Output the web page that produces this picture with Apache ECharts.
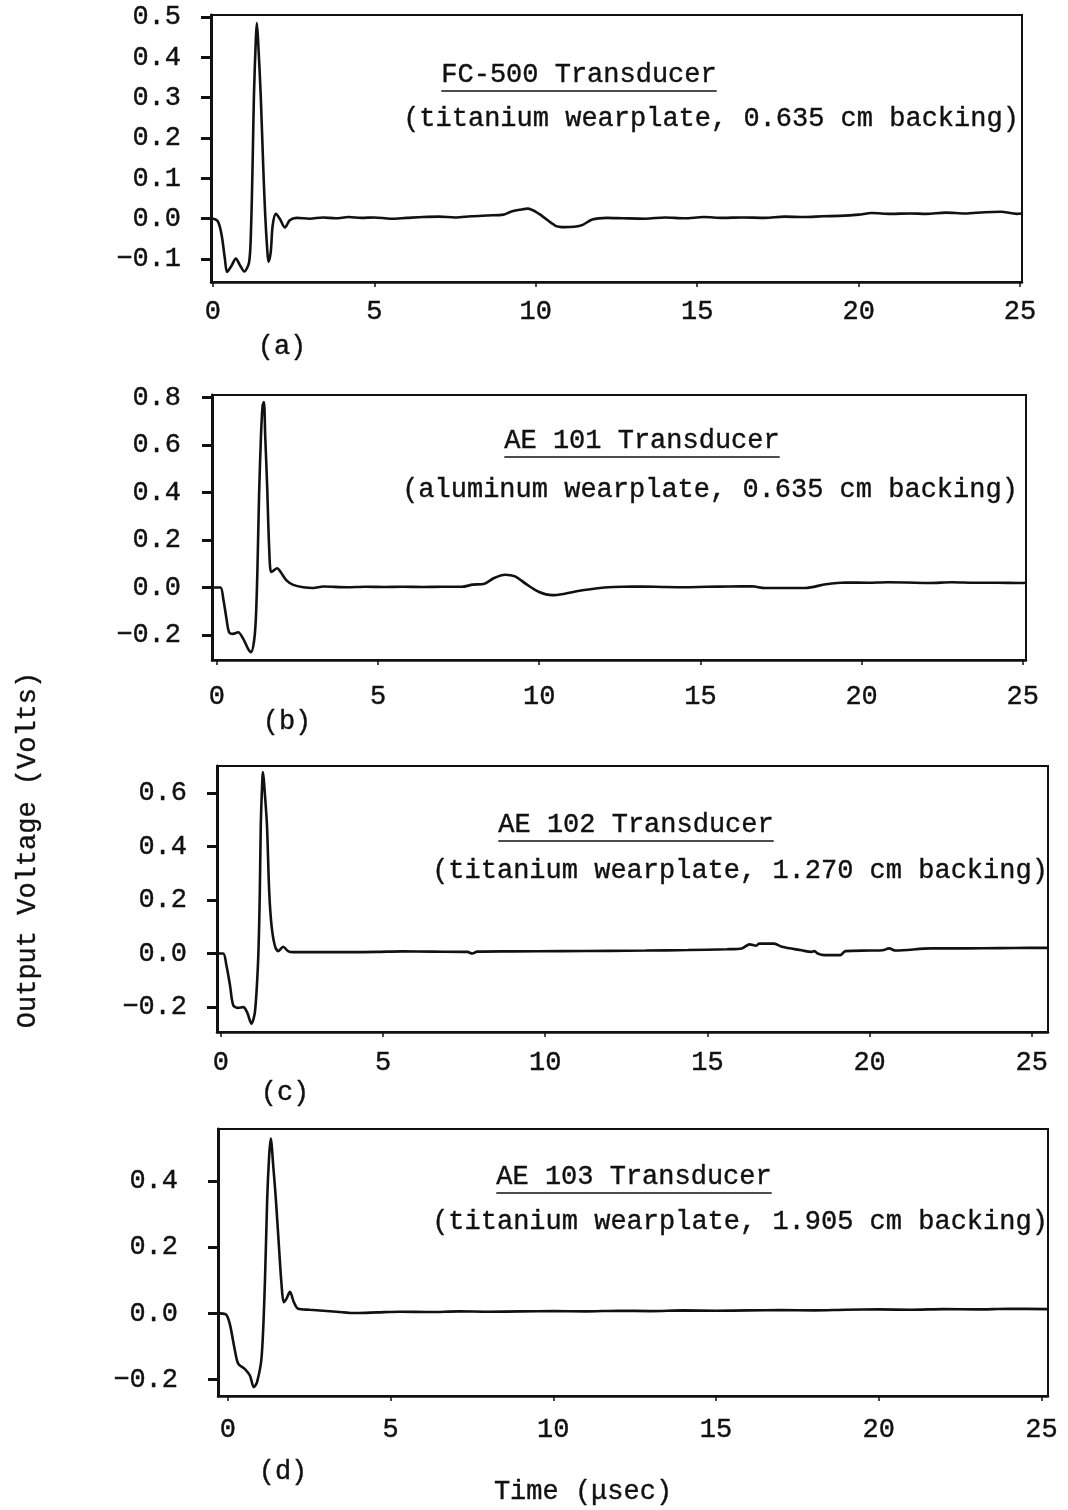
<!DOCTYPE html>
<html>
<head>
<meta charset="utf-8">
<script src="https://cdn.jsdelivr.net/npm/echarts@6/dist/echarts.min.js"></script>
<style>
html,body{margin:0;padding:0;background:#fff;}
#chart{width:1068px;height:1510px;}
</style>
</head>
<body>
<div id="chart"></div>
<script>
// ---- DATA (time in µsec, output voltage in volts) ----
const xTickValues = [0, 5, 10, 15, 20, 25];
const yTicksA = [-0.1, 0.0, 0.1, 0.2, 0.3, 0.4, 0.5];
const yTicksB = [-0.2, 0.0, 0.2, 0.4, 0.6, 0.8];
const yTicksC = [-0.2, 0.0, 0.2, 0.4, 0.6];
const yTicksD = [-0.2, 0.0, 0.2, 0.4];

const titlesMain = ["FC-500 Transducer", "AE 101 Transducer", "AE 102 Transducer", "AE 103 Transducer"];
const titlesSub = ["(titanium wearplate, 0.635 cm backing)", "(aluminum wearplate, 0.635 cm backing)",
                   "(titanium wearplate, 1.270 cm backing)", "(titanium wearplate, 1.905 cm backing)"];
const panelTags = ["(a)", "(b)", "(c)", "(d)"];

const waveA = [
 [-0.06,0],[0.0,0],[0.16,-0.008],[0.27,-0.041],[0.37,-0.099],[0.44,-0.132],[0.58,-0.116],[0.71,-0.099],
 [0.84,-0.116],[0.97,-0.131],[1.12,-0.108],[1.18,-0.025],[1.23,0.14],[1.27,0.306],[1.33,0.447],[1.36,0.485],
 [1.40,0.44],[1.48,0.306],[1.56,0.124],[1.62,0.008],[1.68,-0.074],[1.72,-0.107],[1.79,-0.083],[1.85,-0.017],
 [1.95,0.012],[2.07,0.0],[2.23,-0.022],[2.38,-0.004],[2.59,0.002],[3.0,0.0],[3.4,0.003],[3.8,0.001],
 [4.2,0.004],[4.6,0.002],[5.0,0.003],[5.5,0.0],[6.0,0.002],[6.5,0.004],[7.0,0.005],[7.5,0.003],
 [8.0,0.006],[8.5,0.008],[9.0,0.010],[9.25,0.018],[9.5,0.022],[9.75,0.025],[10.1,0.012],[10.6,-0.017],
 [10.9,-0.021],[11.4,-0.017],[11.75,-0.002],[12.2,0.002],[12.7,0.001],[13.4,0.0],[14.0,0.003],[14.6,0.001],
 [15.2,0.004],[15.8,0.002],[16.4,0.003],[17.1,0.002],[17.7,0.005],[18.3,0.004],[18.9,0.006],[19.4,0.007],
 [20.0,0.010],[20.4,0.014],[21.0,0.012],[21.6,0.013],[22.1,0.012],[22.7,0.015],[23.3,0.013],[23.9,0.016],
 [24.4,0.017],[24.9,0.012],[25.06,0.013]
];

const waveB = [
 [-0.15,0],[0.11,0],[0.2,-0.048],[0.3,-0.132],[0.38,-0.188],[0.5,-0.195],[0.66,-0.188],[0.82,-0.216],
 [0.97,-0.258],[1.06,-0.272],[1.15,-0.23],[1.21,-0.132],[1.26,0.079],[1.31,0.387],[1.37,0.64],[1.42,0.766],
 [1.46,0.78],[1.5,0.64],[1.56,0.43],[1.62,0.177],[1.68,0.065],[1.75,0.07],[1.87,0.081],[1.98,0.065],
 [2.16,0.03],[2.37,0.011],[2.68,0.001],[2.99,-0.002],[3.3,0.004],[4.03,0.001],[4.6,0.003],[5.2,0.002],
 [5.75,0.003],[6.4,0.002],[7.0,0.003],[7.6,0.003],[7.94,0.012],[8.3,0.016],[8.6,0.040],[8.94,0.054],
 [9.25,0.047],[9.6,0.014],[10.0,-0.019],[10.4,-0.032],[10.75,-0.027],[11.25,-0.014],[11.75,-0.004],
 [12.3,0.002],[12.9,0.004],[13.6,0.003],[14.5,0.001],[15.2,0.003],[15.9,0.004],[16.6,0.005],[17.0,-0.002],
 [17.6,-0.002],[18.25,-0.002],[18.9,0.014],[19.5,0.021],[20.2,0.020],[20.8,0.022],[21.4,0.021],
 [22.1,0.019],[22.8,0.022],[23.5,0.020],[24.2,0.020],[24.9,0.019],[25.1,0.020]
];

const waveC = [
 [-0.12,0],[0.07,0],[0.17,-0.044],[0.28,-0.118],[0.38,-0.193],[0.53,-0.203],[0.69,-0.2],[0.81,-0.22],
 [0.94,-0.262],[1.05,-0.218],[1.15,-0.019],[1.2,0.23],[1.23,0.48],[1.28,0.654],[1.3,0.677],[1.35,0.605],
 [1.42,0.48],[1.49,0.23],[1.56,0.106],[1.66,0.031],[1.77,0.009],[1.92,0.025],[2.07,0.009],[2.22,0.005],
 [3.0,0.005],[3.96,0.005],[4.8,0.006],[5.6,0.008],[6.5,0.007],[7.6,0.006],[7.75,0.0],[7.9,0.007],
 [9.0,0.008],[10.5,0.009],[12.0,0.010],[13.1,0.011],[14.4,0.013],[15.6,0.016],[16.06,0.019],[16.3,0.034],
 [16.5,0.029],[16.6,0.037],[17.06,0.037],[17.3,0.025],[17.9,0.012],[18.2,0.006],[18.3,0.009],[18.4,0.0],
 [18.6,-0.006],[19.1,-0.006],[19.25,0.009],[20.0,0.011],[20.4,0.012],[20.6,0.019],[20.8,0.011],
 [21.9,0.019],[23.0,0.019],[24.0,0.020],[24.9,0.021],[25.5,0.021]
];

const waveD = [
 [-0.3,0],[-0.06,-0.003],[0.06,-0.031],[0.22,-0.112],[0.32,-0.152],[0.52,-0.168],[0.68,-0.188],[0.8,-0.223],
 [0.9,-0.208],[1.04,-0.132],[1.14,0.09],[1.21,0.342],[1.27,0.474],[1.32,0.529],[1.4,0.443],[1.48,0.342],
 [1.58,0.191],[1.65,0.09],[1.72,0.034],[1.8,0.044],[1.91,0.065],[2.03,0.034],[2.16,0.014],[2.52,0.011],
 [3.34,0.005],[3.95,0.001],[4.6,0.003],[5.3,0.005],[6.2,0.004],[7.1,0.006],[8.0,0.005],[9.0,0.006],
 [10.0,0.007],[11.0,0.006],[12.0,0.008],[13.0,0.007],[14.0,0.009],[15.0,0.008],[16.0,0.009],[17.0,0.010],
 [18.0,0.009],[19.0,0.011],[20.0,0.012],[21.0,0.011],[22.0,0.013],[23.0,0.012],[24.0,0.014],[25.2,0.013]
];

// ---- LAYOUT ----
const FONT = '"Liberation Mono", "DejaVu Sans Mono", monospace';
const FS = 27;
const INK = '#111';

const panels = [
  {wave: waveA, yTicks: yTicksA, grid: {left: 211, top: 15, width: 811, height: 267},
   x: [-0.06, 25.06], y: [-0.157, 0.505], xMargin: 16, yMargin: 30,
   t1: [579, 75], t2: [711, 119], tag: [282, 347]},
  {wave: waveB, yTicks: yTicksB, grid: {left: 212, top: 395, width: 814, height: 265},
   x: [-0.15, 25.1], y: [-0.305, 0.81], xMargin: 23, yMargin: 31,
   t1: [642, 441], t2: [710, 490], tag: [287, 722]},
  {wave: waveC, yTicks: yTicksC, grid: {left: 217, top: 766, width: 831, height: 266},
   x: [-0.12, 25.5], y: [-0.293, 0.70], xMargin: 17, yMargin: 30,
   t1: [636, 825], t2: [740, 871], tag: [285, 1093]},
  {wave: waveD, yTicks: yTicksD, grid: {left: 218, top: 1129, width: 830, height: 267},
   x: [-0.3, 25.2], y: [-0.25, 0.558], xMargin: 20, yMargin: 40,
   t1: [634, 1177], t2: [740, 1222], tag: [283, 1472]}
];

const textStroke = {textBorderColor: INK, textBorderWidth: 0.4};
const grids = [], xAxes = [], yAxes = [], series = [], graphics = [];
panels.forEach((p, i) => {
  grids.push(Object.assign({show: true, borderColor: INK, borderWidth: 2, backgroundColor: '#fff'}, p.grid));
  xAxes.push({
    type: 'value', gridIndex: i, min: p.x[0], max: p.x[1],
    axisLine: {show: true, onZero: false, lineStyle: {color: INK, width: 2.5}},
    axisTick: {show: true, customValues: xTickValues, length: 5, lineStyle: {color: INK, width: 1.5}},
    axisLabel: Object.assign({show: true, customValues: xTickValues, margin: p.xMargin, color: INK,
                fontFamily: FONT, fontSize: FS, formatter: v => String(v)}, textStroke),
    splitLine: {show: false}
  });
  yAxes.push({
    type: 'value', gridIndex: i, min: p.y[0], max: p.y[1],
    axisLine: {show: true, onZero: false, lineStyle: {color: INK, width: 3}},
    axisTick: {show: true, customValues: p.yTicks, length: 10, lineStyle: {color: INK, width: 3}},
    axisLabel: Object.assign({show: true, customValues: p.yTicks, margin: p.yMargin, color: INK,
                fontFamily: FONT, fontSize: FS, formatter: v => v.toFixed(1).replace('-', '\u2212')}, textStroke),
    splitLine: {show: false}
  });
  series.push({
    type: 'line', xAxisIndex: i, yAxisIndex: i, data: p.wave,
    showSymbol: false, symbol: 'none', silent: true, smooth: 0.3,
    lineStyle: {color: INK, width: 2.6}
  });
  const halfW = titlesMain[i].length * FS * 0.6 / 2;
  const font = FS + 'px ' + FONT;
  const ts = {fill: INK, font: font, align: 'center', verticalAlign: 'middle', stroke: INK, lineWidth: 0.4};
  graphics.push(
    {type: 'text', x: p.t1[0], y: p.t1[1], style: Object.assign({text: titlesMain[i]}, ts)},
    {type: 'line', shape: {x1: p.t1[0] - halfW, y1: p.t1[1] + 16, x2: p.t1[0] + halfW, y2: p.t1[1] + 16}, style: {stroke: INK, lineWidth: 1.6}},
    {type: 'text', x: p.t2[0], y: p.t2[1], style: Object.assign({text: titlesSub[i]}, ts)},
    {type: 'text', x: p.tag[0], y: p.tag[1], style: Object.assign({text: panelTags[i]}, ts)}
  );
});
const tsG = {fill: INK, font: FS + 'px ' + FONT, align: 'center', verticalAlign: 'middle', stroke: INK, lineWidth: 0.4};
graphics.push(
  {type: 'text', x: 28, y: 850, rotation: Math.PI / 2, style: Object.assign({text: 'Output Voltage (Volts)'}, tsG)},
  {type: 'text', x: 583, y: 1492, style: Object.assign({text: 'Time (\u03bcsec)'}, tsG)}
);

const chart = echarts.init(document.getElementById('chart'), null, {renderer: 'canvas'});
chart.setOption({
  backgroundColor: '#fff',
  animation: false,
  grid: grids,
  xAxis: xAxes,
  yAxis: yAxes,
  series: series,
  graphic: graphics
});
</script>
</body>
</html>
